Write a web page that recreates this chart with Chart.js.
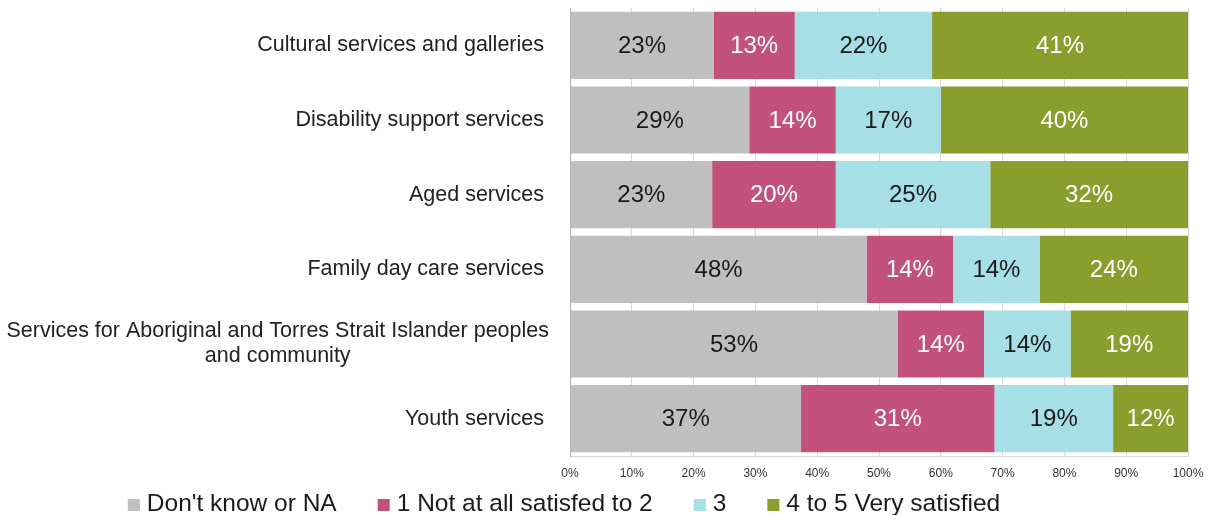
<!DOCTYPE html>
<html>
<head>
<meta charset="utf-8">
<script src="https://cdn.jsdelivr.net/npm/chart.js@4.4.1/dist/chart.umd.min.js"></script>
<style>
    html, body { margin: 0; padding: 0; background: #fff; }
    #wrap { width: 1216px; height: 515px; }
</style>
</head>
<body>
<div id="wrap"><canvas id="satisfaction"></canvas></div>
<script>
// Services rated in the survey, top to bottom.
const categories = [
    'Cultural services and galleries',
    'Disability support services',
    'Aged services',
    'Family day care services',
    [ 'Services for Aboriginal and Torres Strait Islander peoples', 'and community' ],
    'Youth services'
];
// Share of respondents (%) for each rating band.
const dontKnow = [ 23, 29, 23, 48, 53, 37 ];
const notSatisfied = [ 13, 14, 20, 14, 14, 31 ];
const neutral = [ 22, 17, 25, 14, 14, 19 ];
const verySatisfied = [ 41, 40, 32, 24, 19, 12 ];
const seriesNames = [ "Don't know or NA", '1 Not at all satisfed to 2', '3', '4 to 5 Very satisfied' ];
const xTickLabels = [ '0%', '10%', '20%', '30%', '40%', '50%', '60%', '70%', '80%', '90%', '100%' ];

const barColours = [ '#BFBFBF', '#C2527B', '#A6DFE6', '#8A9E2D' ];
const textColours = [ '#1a1a1a', '#ffffff', '#1a1a1a', '#ffffff' ];
const FONT = '"Liberation Sans", Arial, sans-serif';

const series = [ dontKnow, notSatisfied, neutral, verySatisfied ];

// Rounded values don't always add to 100, so each row is scaled to fill the bar.
const rowTotals = categories.map( function( c, j ) {
    return series.reduce( function( sum, s ) { return sum + s[ j ]; }, 0 );
});

/**
 * Writes the category names left of the axis. Wrapped names are centred
 * line by line, the block itself sits right-aligned against the axis.
 */
const categoryLabels = {
    id: 'categoryLabels',
    afterDraw( chart ) {
        const ctx = chart.ctx;
        const yScale = chart.scales.y;
        const lineH = 25;
        ctx.save();
        ctx.font = '21.5px ' + FONT;
        ctx.fillStyle = '#222222';
        ctx.textAlign = 'center';
        ctx.textBaseline = 'middle';
        categories.forEach( function( label, i ) {
            const lines = Array.isArray( label ) ? label : [ label ];
            const widest = Math.max( ...lines.map( function( l ) { return ctx.measureText( l ).width; } ) );
            // wrapped names get a bit less space before the axis
            const pad = lines.length > 1 ? 21 : 26;
            const cx = yScale.right - pad - widest / 2;
            const top = yScale.getPixelForValue( i ) - ( lines.length - 1 ) * lineH / 2;
            lines.forEach( function( l, k ) {
                ctx.fillText( l, cx, top + k * lineH );
            });
        });
        ctx.restore();
    }
};

/**
 * Prints the percentage in the middle of every segment.
 */
const valueLabels = {
    id: 'valueLabels',
    afterDatasetsDraw( chart ) {
        const ctx = chart.ctx;
        ctx.save();
        ctx.font = '24px ' + FONT;
        ctx.textAlign = 'center';
        ctx.textBaseline = 'middle';
        chart.data.datasets.forEach( function( ds, i ) {
            const meta = chart.getDatasetMeta( i );
            meta.data.forEach( function( bar, j ) {
                ctx.fillStyle = textColours[ i ];
                ctx.fillText( series[ i ][ j ] + '%', ( bar.x + bar.base ) / 2, bar.y + 1 );
            });
        });
        ctx.restore();
    }
};

/**
 * Draws the legend row along the bottom: small squares, wide gaps between entries.
 */
const bottomLegend = {
    id: 'bottomLegend',
    afterDraw( chart ) {
        const ctx = chart.ctx;
        const box = 12;
        const boxGap = 7;
        const itemGap = 41;
        const baseline = 511;
        const centre = 564;
        ctx.save();
        ctx.font = '24.5px ' + FONT;
        ctx.textBaseline = 'alphabetic';
        ctx.textAlign = 'left';
        const widths = chart.data.datasets.map( function( ds ) {
            return box + boxGap + ctx.measureText( ds.label ).width;
        });
        const total = widths.reduce( function( a, b ) { return a + b; }, 0 ) + itemGap * ( widths.length - 1 );
        let x = centre - total / 2;
        chart.data.datasets.forEach( function( ds, i ) {
            ctx.fillStyle = ds.backgroundColor;
            ctx.fillRect( x, baseline - box, box, box );
            ctx.fillStyle = '#1a1a1a';
            ctx.fillText( ds.label, x + box + boxGap, baseline );
            x += widths[ i ] + itemGap;
        });
        ctx.restore();
    }
};

const datasets = series.map( function( values, i ) {
    return {
        label: seriesNames[ i ],
        data: values.map( function( v, j ) { return v / rowTotals[ j ] * 100; } ),
        backgroundColor: barColours[ i ],
        borderWidth: 0,
        barPercentage: 0.9,
        categoryPercentage: 1
    };
});

new Chart( document.getElementById( 'satisfaction' ), {
    type: 'bar',
    data: {
        labels: categories,
        datasets: datasets
    },
    options: {
        indexAxis: 'y',
        responsive: true,
        maintainAspectRatio: false,
        animation: false,
        layout: {
            padding: { top: 8, right: 28, left: 0, bottom: 0 }
        },
        scales: {
            x: {
                stacked: true,
                min: 0,
                max: 100,
                ticks: {
                    stepSize: 10,
                    padding: 10,
                    color: '#333333',
                    font: { family: FONT, size: 12 },
                    callback: function( value, index ) { return xTickLabels[ index ]; }
                },
                grid: { color: '#d9d9d9', drawTicks: false },
                border: { color: '#d9d9d9' },
                afterFit: function( scale ) { scale.height = 59; }
            },
            y: {
                stacked: true,
                ticks: { display: false },
                grid: { display: false },
                border: { color: '#a6a6a6', width: 1 },
                afterFit: function( scale ) { scale.width = 570; }
            }
        },
        plugins: {
            legend: { display: false },
            tooltip: { enabled: false }
        }
    },
    plugins: [ categoryLabels, valueLabels, bottomLegend ]
});
</script>
</body>
</html>
